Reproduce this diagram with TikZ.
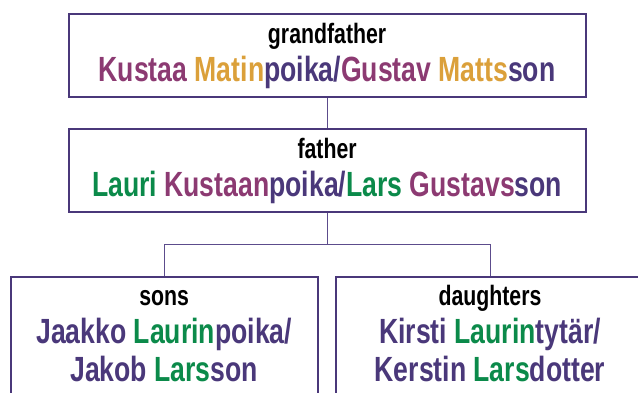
\documentclass[tikz,border=0pt]{standalone}
\usepackage{fontspec}
\setmainfont{Liberation Sans}[FakeStretch=0.76]
\usepackage{xcolor}
\definecolor{famPurple}{HTML}{4A387A}
\definecolor{famMagenta}{HTML}{8C3A72}
\definecolor{famGold}{HTML}{DBA03A}
\definecolor{famGreen}{HTML}{0B8A4A}
\definecolor{famLine}{HTML}{5C4C8C}
\newcommand{\lbl}[1]{{\color{black}\fontsize{28}{38}\selectfont #1}}
\newcommand{\mg}[1]{\textcolor{famMagenta}{#1}}
\newcommand{\gd}[1]{\textcolor{famGold}{#1}}
\newcommand{\gr}[1]{\textcolor{famGreen}{#1}}

\begin{document}
\begin{tikzpicture}[x=1pt, y=-1pt,
		famBox/.style={draw=famPurple, line width=2pt, anchor=north, align=center,
			text=famPurple, inner xsep=0pt, inner ysep=0pt,
			font=\bfseries\fontsize{35}{38}\selectfont},
		famLink/.style={draw=famLine, line width=1pt}]
		\useasboundingbox (0,0) rectangle (638,392);
		\clip (0,0) rectangle (638,392);
		\node[famBox, minimum width=517pt, text height=67.5pt, text depth=15.6pt] (gf) at (327.1,12.7)
			{\lbl{grandfather}\\ \mg{Kustaa} \gd{Matin}poika/\mg{Gustav} \gd{Matts}son};
		\node[famBox, minimum width=517pt, text height=67.5pt, text depth=15.6pt] (fa) at (327.1,127.7)
			{\lbl{father}\\ \gr{Lauri} \mg{Kustaan}poika/\gr{Lars} \mg{Gustavs}son};
		\node[famBox, minimum width=307pt, text height=105pt, text depth=100pt] (sons) at (164.2,275.7)
			{\lbl{sons}\\ Jaakko \gr{Laurin}poika/\\ Jakob \gr{Lars}son};
		\node[famBox, minimum width=308pt, text height=105pt, text depth=100pt] (dau) at (490,275.7)
			{\lbl{daughters}\\ Kirsti \gr{Laurin}tytär/\\ Kerstin \gr{Lars}dotter};
		\draw[famLink] (gf.south) -- (fa.north);
		\draw[famLink] (fa.south) -- ++(0,31.7) coordinate (fork);
		\draw[famLink] (sons.north) |- (fork) -| (dau.north);
	\end{tikzpicture}
\end{document}
